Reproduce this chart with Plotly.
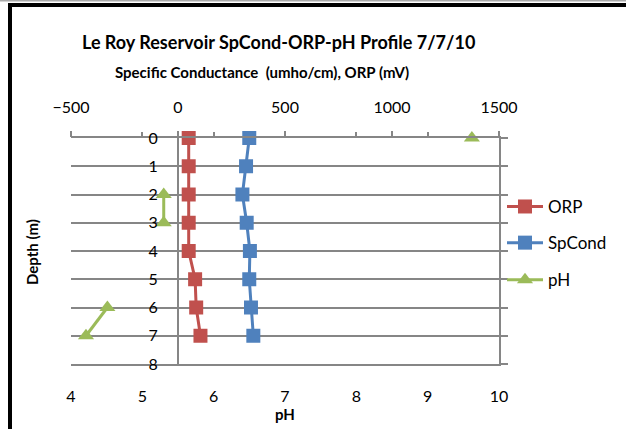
import plotly.graph_objects as go

depth = [0, 1, 2, 3, 4, 5, 6, 7]
orp = [50, 50, 50, 50, 50, 80, 85, 105]
spcond = [333, 318, 301, 321, 336, 333, 341, 352]
ph = [9.62, None, 5.30, 5.30, None, None, 4.51, 4.21]

top_ticks = [-500, 0, 500, 1000, 1500]
ph_ticks = [4, 5, 6, 7, 8, 9, 10]
depth_ticks = [0, 1, 2, 3, 4, 5, 6, 7, 8]

RED = "#C0504D"
BLUE = "#4F81BD"
GREEN = "#9BBB59"
GRID = "#868686"
FONT = "Lato"

fig = go.Figure()
fig.add_trace(go.Scatter(x=orp, y=depth, name="ORP", mode="lines+markers",
                         line=dict(color=RED, width=3),
                         marker=dict(symbol="square", size=14, color=RED),
                         xaxis="x", yaxis="y", cliponaxis=False, legend="legend"))
fig.add_trace(go.Scatter(x=spcond, y=depth, name="SpCond", mode="lines+markers",
                         line=dict(color=BLUE, width=3),
                         marker=dict(symbol="square", size=14, color=BLUE),
                         xaxis="x", yaxis="y", cliponaxis=False, legend="legend2"))
fig.add_trace(go.Scatter(x=ph, y=depth, name="pH", mode="lines+markers",
                         line=dict(color=GREEN, width=3),
                         marker=dict(symbol="triangle-up", size=14, color=GREEN),
                         connectgaps=False,
                         xaxis="x2", yaxis="y", cliponaxis=False, legend="legend3"))
# inactive helper so that the extra tick axes get drawn
fig.add_trace(go.Scatter(x=[None], y=[None], xaxis="x3", yaxis="y2",
                         showlegend=False, hoverinfo="skip"))

legend_common = dict(xanchor="left", yanchor="middle", bgcolor="rgba(0,0,0,0)",
                     font=dict(family=FONT, size=17, color="#000"), itemwidth=36)

fig.update_layout(
    width=626, height=429,
    margin=dict(l=71, r=127, t=138, b=65, autoexpand=False),
    paper_bgcolor="white", plot_bgcolor="white",
    font=dict(family=FONT, color="#000"),
    xaxis=dict(range=[-500, 1500], side="top", anchor="y", tickvals=top_ticks,
               ticks="outside", ticklen=5, tickwidth=2, tickcolor=GRID,
               showgrid=False, zeroline=False, showline=True, linecolor=GRID,
               linewidth=2, automargin=False,
               tickfont=dict(size=16, family=FONT), ticklabelstandoff=12),
    xaxis2=dict(range=[4, 10], side="bottom", overlaying="x", anchor="y",
                tickvals=ph_ticks, ticks="", showgrid=False, zeroline=False,
                showline=True, linecolor=GRID, linewidth=2, automargin=False,
                tickfont=dict(size=16, family=FONT), ticklabelstandoff=17),
    xaxis3=dict(range=[4, 10], side="top", overlaying="x", anchor="y",
                tickvals=ph_ticks, ticks="outside", ticklen=5, tickwidth=2,
                tickcolor=GRID, showticklabels=False, showgrid=False,
                zeroline=False, showline=False, automargin=False),
    yaxis=dict(range=[8, 0], anchor="free", position=0.25, tickvals=depth_ticks,
               showgrid=True, gridcolor=GRID, gridwidth=2, zeroline=False,
               showline=True, linecolor=GRID, linewidth=2, ticks="",
               automargin=False,
               tickfont=dict(size=16, family=FONT), ticklabelstandoff=16),
    yaxis2=dict(range=[8, 0], overlaying="y", side="right", anchor="x",
                tickvals=depth_ticks, showticklabels=False, showgrid=False,
                zeroline=False, showline=True, linecolor=GRID, linewidth=2,
                ticks="outside", ticklen=7, tickwidth=2, tickcolor=GRID,
                automargin=False),
    legend=dict(x=1.0 + 3 / 428, y=(8 - 2.44) / 8, **legend_common),
    legend2=dict(x=1.0 + 3 / 428, y=(8 - 3.72) / 8, **legend_common),
    legend3=dict(x=1.0 + 3 / 428, y=(8 - 5.03) / 8, **legend_common),
    showlegend=True,
)

def px_x(p):
    return (p - 71) / 428

def px_y(p):
    return 1 - (p - 138) / 226

fig.add_annotation(text="<b>Le Roy Reservoir SpCond-ORP-pH Profile 7/7/10</b>",
                   xref="paper", yref="paper", x=px_x(278), y=px_y(42),
                   showarrow=False, font=dict(size=18, family=FONT, color="#000"),
                   xanchor="center", yanchor="middle")
fig.add_annotation(text="<b>Specific Conductance  (umho/cm), ORP (mV)</b>",
                   xref="paper", yref="paper", x=px_x(262), y=px_y(72),
                   showarrow=False, font=dict(size=15, family=FONT, color="#000"),
                   xanchor="center", yanchor="middle")
fig.add_annotation(text="<b>pH</b>", xref="paper", yref="paper",
                   x=px_x(285), y=px_y(414), showarrow=False,
                   font=dict(size=15, family=FONT, color="#000"),
                   xanchor="center", yanchor="middle")
fig.add_annotation(text="<b>Depth (m)</b>", xref="paper", yref="paper",
                   x=px_x(32), y=px_y(252), showarrow=False,
                   textangle=-90, font=dict(size=15, family=FONT, color="#000"),
                   xanchor="center", yanchor="middle")

# chart frame (outer border of the original chart object), drawn as filled bands
fig.add_shape(type="rect", xref="paper", yref="paper",
              x0=px_x(8), x1=px_x(640), y0=px_y(3), y1=px_y(7),
              fillcolor="#000", line=dict(width=0), layer="above")
fig.add_shape(type="rect", xref="paper", yref="paper",
              x0=px_x(8), x1=px_x(12), y0=px_y(3), y1=px_y(440),
              fillcolor="#000", line=dict(width=0), layer="above")
fig.add_shape(type="rect", xref="paper", yref="paper",
              x0=px_x(0), x1=px_x(640), y0=px_y(0), y1=px_y(1.5),
              fillcolor="#aaa", line=dict(width=0), layer="above")

fig.write_html("out.html", config={"displayModeBar": False},
               post_script="document.body.style.margin='0';document.body.style.overflow='hidden';")
